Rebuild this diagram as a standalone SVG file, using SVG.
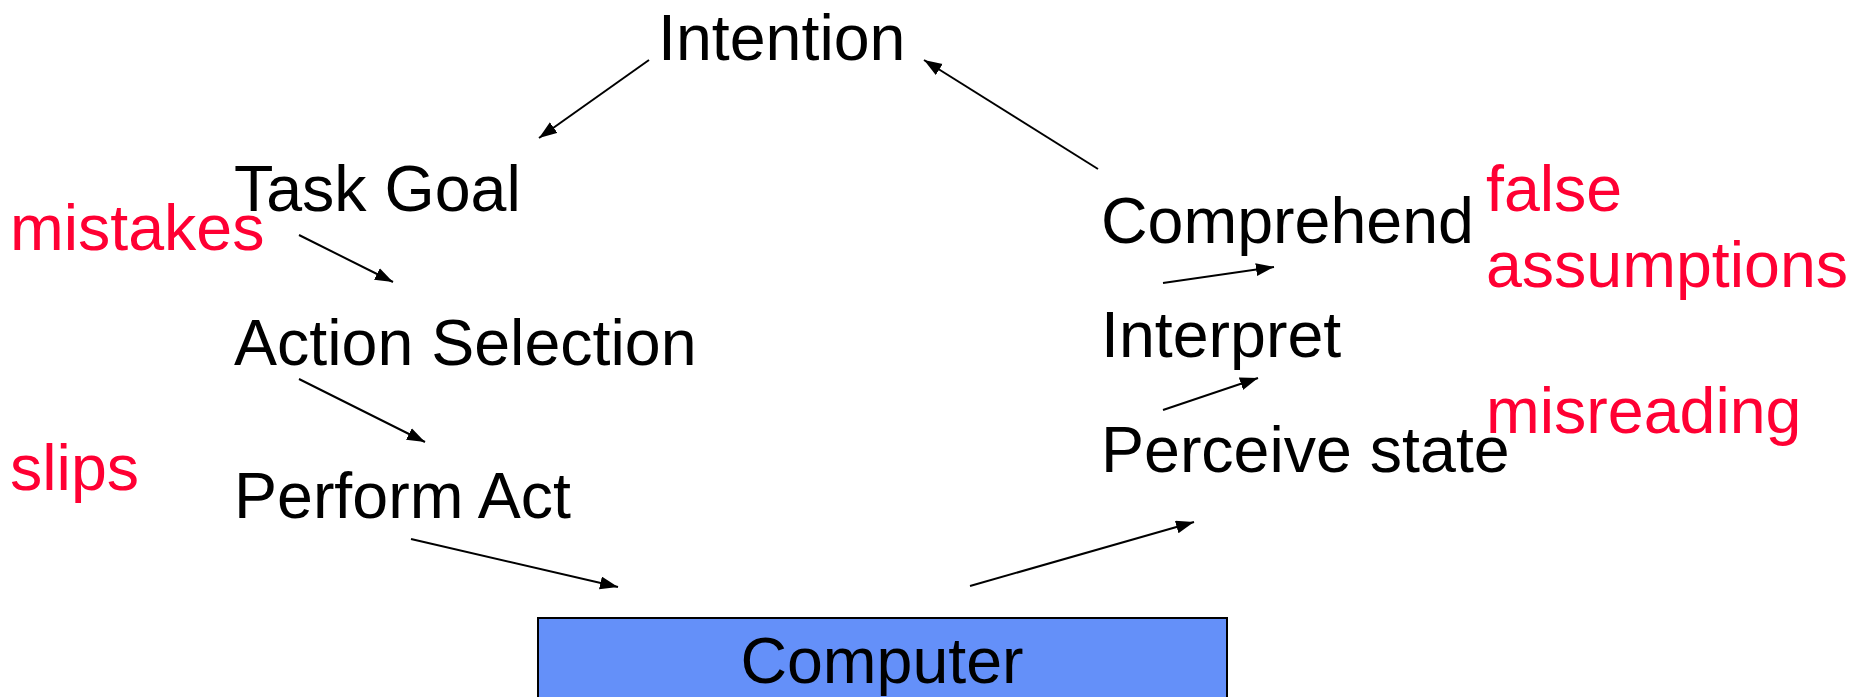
<svg xmlns="http://www.w3.org/2000/svg" width="1852" height="697" viewBox="0 0 1852 697">
<style>
.t{font-family:"Liberation Sans",Arial,sans-serif;font-size:64.5px;fill:#000}
.r{font-family:"Liberation Sans",Arial,sans-serif;font-size:64.5px;fill:#FF0033}
.c{stroke:#000;stroke-width:2;fill:none;marker-end:url(#ah)}
</style>
<defs>
<marker id="ah" markerUnits="userSpaceOnUse" markerWidth="19" markerHeight="14" refX="18" refY="6.5" orient="auto">
<path d="M0,0 L18,6.5 L0,13 Z" fill="#000"/>
</marker>
</defs>
<rect width="1852" height="697" fill="#fff"/>
<g id="computer">
<rect x="538" y="618" width="689" height="100" fill="#6490F9" stroke="#000" stroke-width="2"/>
<text class="t" x="882" y="683" text-anchor="middle">Computer</text>
</g>
<g id="intention"><text class="t" x="658" y="60">Intention</text></g>
<g id="task-goal"><text class="t" x="234" y="211">Task Goal</text></g>
<g id="action-selection"><text class="t" x="234" y="365">Action Selection</text></g>
<g id="perform-act"><text class="t" x="234" y="518">Perform Act</text></g>
<g id="comprehend"><text class="t" x="1101" y="243">Comprehend</text></g>
<g id="interpret"><text class="t" x="1101" y="357">Interpret</text></g>
<g id="perceive-state"><text class="t" x="1101" y="472">Perceive state</text></g>
<g id="mistakes"><text class="r" x="10" y="250">mistakes</text></g>
<g id="slips"><text class="r" x="10" y="490">slips</text></g>
<g id="false-assumptions"><text class="r" x="1486" y="211">false</text><text class="r" x="1486" y="287">assumptions</text></g>
<g id="misreading"><text class="r" x="1486" y="433">misreading</text></g>
<g id="connectors">
<line class="c" x1="649" y1="60" x2="539" y2="138"/>
<line class="c" x1="299" y1="235" x2="393" y2="282"/>
<line class="c" x1="299" y1="379" x2="425" y2="442"/>
<line class="c" x1="411" y1="539" x2="618" y2="587"/>
<line class="c" x1="970" y1="586" x2="1194" y2="522"/>
<line class="c" x1="1163" y1="410" x2="1258" y2="378"/>
<line class="c" x1="1163" y1="283" x2="1274" y2="267"/>
<line class="c" x1="1098" y1="169" x2="924" y2="60"/>
</g>
</svg>
